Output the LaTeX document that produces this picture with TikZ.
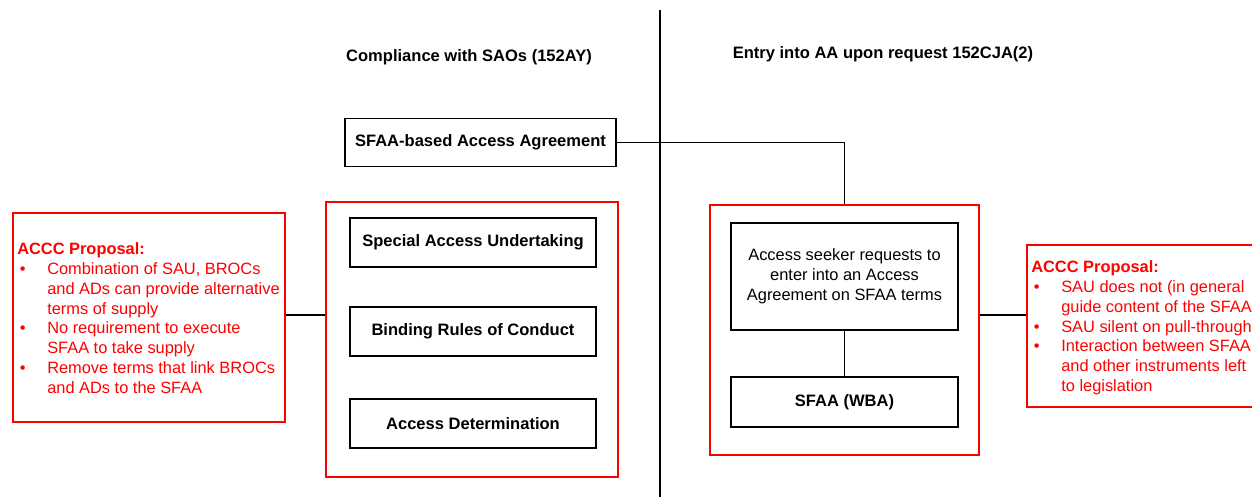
\documentclass[tikz,border=0pt]{standalone}
\usepackage{fontspec}
\setmainfont{Liberation Sans}
\usetikzlibrary{calc,positioning}

\tikzset{
  blackbox/.style={draw, line width=1pt, inner sep=0pt, align=center,
    font=\fontsize{12.4}{14.85}\selectfont\bfseries},
  groupbox/.style={draw=red, line width=1pt, inner sep=0pt},
  proposal/.style={text=red, inner sep=0pt, align=left, anchor=north west,
    font=\fontsize{12.3}{14.85}\selectfont},
  heading/.style={font=\fontsize{12.4}{14.85}\selectfont\bfseries}
}
\newcommand{\bul}{\makebox[22.5pt][l]{\hspace*{2pt}\textbullet}}
\newcommand{\ind}{\hspace*{22.5pt}}

\begin{document}
\begin{tikzpicture}[x=0.75pt, y=-0.75pt]

\useasboundingbox (0,0) rectangle (1252,497);

% divider
\coordinate (divtop) at (660, 10);
\coordinate (divbot) at (660, 497);
\draw [line width=1pt] (divtop) to (divbot);

\node[heading] (lefttitle) at (469, 57) {Compliance with SAOs (152AY)};
\node[heading] (righttitle) at (883, 54) {Entry into AA upon request 152CJA(2)};

% left side
\node[blackbox, minimum width=203.25pt, minimum height=36pt] (sfaabased) at (480.5, 142.5) {SFAA-based Access Agreement};

\node[groupbox, minimum width=219pt, minimum height=206.25pt] (leftgroup) at (472, 339.5) {};
\node[blackbox, minimum width=184.5pt, minimum height=36.75pt] (sau) at (473, 242.5) {Special Access Undertaking};
\node[blackbox, minimum width=184.5pt, minimum height=36.75pt] (broc) at (473, 331.5) {Binding Rules of Conduct};
\node[blackbox, minimum width=184.5pt, minimum height=36.75pt] (ad) at (473, 423.5) {Access Determination};

\node[groupbox, minimum width=204pt, minimum height=156.75pt] (leftprop) at (149, 317.5) {};
\node[proposal] (lefttext) at (17, 242.5) {%
{\bfseries ACCC Proposal:}\\
\bul Combination of SAU, BROCs\\
\ind and ADs can provide alternative\\
\ind terms of supply\\
\bul No requirement to execute\\
\ind SFAA to take supply\\
\bul Remove terms that link BROCs\\
\ind and ADs to the SFAA};

% right side
\node[groupbox, minimum width=201.75pt, minimum height=187.5pt] (rightgroup) at (844.5, 330) {};
\node[blackbox, minimum width=170.25pt, minimum height=80.25pt,
  font=\fontsize{12.3}{14.85}\selectfont] (seeker) at (844.5, 276.5)
  {Access seeker requests to\\enter into an Access\\Agreement on SFAA terms};
\node[blackbox, minimum width=170.25pt, minimum height=37.5pt] (wba) at (844.5, 402) {SFAA (WBA)};

\node[groupbox, minimum width=198.75pt, minimum height=121.5pt] (rightprop) at (1159.5, 326) {};
\node[proposal] (righttext) at (1031, 260.5) {%
{\bfseries ACCC Proposal:}\\
\bul SAU does not (in general\\
\ind guide content of the SFAA\\
\bul SAU silent on pull-through\\
\bul Interaction between SFAA\\
\ind and other instruments left\\
\ind to legislation};

% connectors
\draw [line width=1pt] (sfaabased.east) to (sfaabased.east -| rightgroup.north) to (rightgroup.north);
\draw [line width=1pt] (leftprop.east |- 0,315) to (leftgroup.west |- 0,315);
\draw [line width=1pt] (rightgroup.east |- 0,315) to (rightprop.west |- 0,315);
\draw [line width=1pt] (seeker.south) to (wba.north);

\end{tikzpicture}
\end{document}
